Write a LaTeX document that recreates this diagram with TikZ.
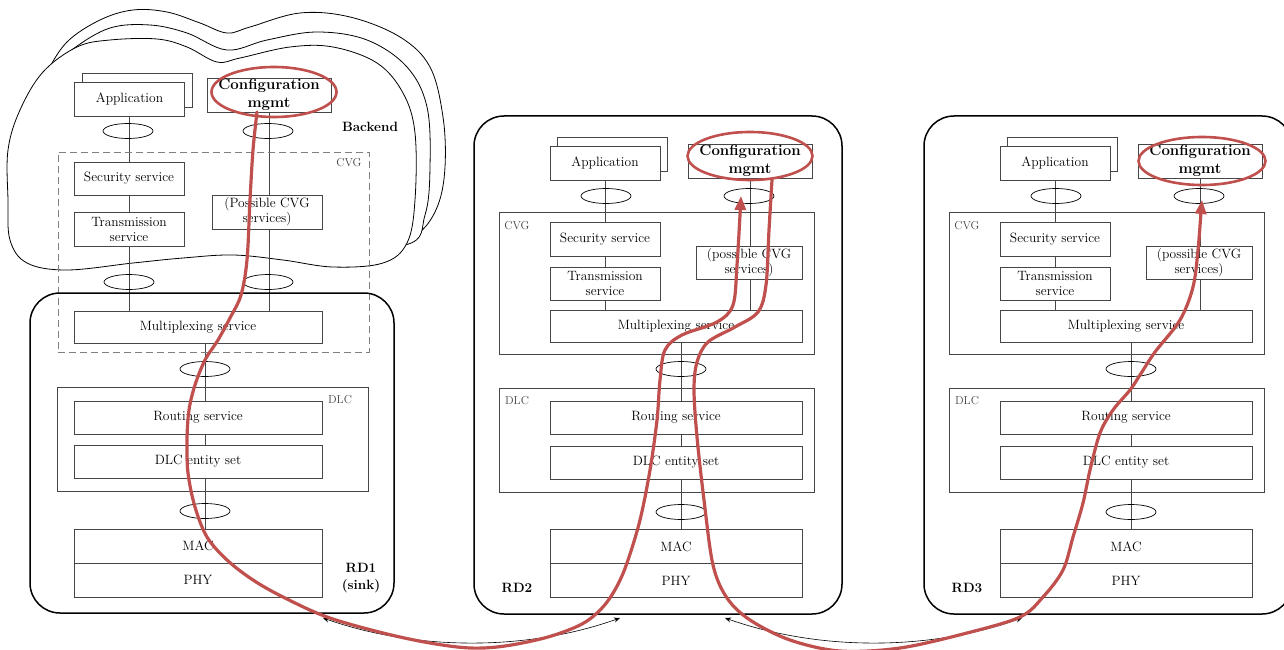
\documentclass[tikz,border=0pt]{standalone}
\usepackage{fontspec}
\usetikzlibrary{shapes.geometric,arrows.meta,calc}
\definecolor{hl}{RGB}{192,80,77}
\definecolor{boxline}{RGB}{70,70,70}
\pgfdeclarelayer{back}\pgfdeclarelayer{wires}\pgfsetlayers{back,wires,main}
\begin{document}
\begin{tikzpicture}[x=1pt,y=-1pt,
 box/.style={draw=boxline, line width=0.9pt, fill=white, inner sep=0pt, align=center, font=\fontsize{13.5}{15}\selectfont, minimum height=33pt},
 cfgbox/.style={draw=boxline, line width=0.9pt, fill=white, inner sep=0pt, align=center, font=\fontsize{15}{18.5}\selectfont\bfseries, minimum width=124pt, minimum height=34pt},
 sap/.style={draw=black, ellipse, line width=0.7pt, minimum width=50pt, minimum height=15pt, inner sep=0pt},
 container/.style={draw=boxline, line width=0.9pt, inner sep=0pt},
 rdbox/.style={draw=black, line width=1.5pt, rounded corners=30pt, inner sep=0pt},
 lbl/.style={font=\fontsize{11.5}{13}\selectfont, text=boxline, inner sep=0pt},
 boldlbl/.style={font=\fontsize{13.5}{17}\selectfont\bfseries, align=center, inner sep=0pt},
 hlring/.style={draw=hl, line width=2.6pt, ellipse, inner sep=0pt},
 hlpath/.style={draw=hl, line width=3.2pt, line cap=round},
 link/.style={draw=black, line width=0.6pt, {Stealth[length=6pt,width=5pt]}-{Stealth[length=6pt,width=5pt]}},
 wire/.style={draw=boxline, line width=0.9pt},
 cloud/.style={fill=white, draw=black, line width=0.8pt}
]
\path[use as bounding box] (0,0) rectangle (1284,650);
\clip (0,0) rectangle (1284,650);

% ---------- Backend clouds ----------
\begin{pgfonlayer}{back}
\filldraw[cloud] plot[smooth cycle,tension=0.6] coordinates {(35,100) (46,74) (67,42) (100,20) (133,10) (167,12) (200,23) (227,33) (250,27) (300,13) (350,17) (400,37) (430,67) (443,117) (445,167) (438,205) (420,232) (390,245) (300,240) (150,235) (60,180)};
\filldraw[cloud] plot[smooth cycle,tension=0.6] coordinates {(35,100) (46,74) (73,49) (110,28) (150,25) (187,33) (227,50) (267,40) (317,32) (367,40) (407,67) (427,107) (430,167) (425,215) (405,245) (300,245) (150,240) (60,185)};
\filldraw[cloud] plot[smooth cycle,tension=0.6] coordinates {(8,150) (20,110) (43,72) (77,47) (110,40) (157,39) (187,47) (217,62) (240,58) (290,47) (333,47) (377,63) (403,93) (415,133) (415,200) (407,243) (383,263) (333,267) (283,260) (233,255) (183,258) (133,263) (67,270) (27,263) (10,240) (8,200)};
\end{pgfonlayer}

% ---------- Backend + RD1 ----------
\node[box, minimum width=110pt, minimum height=34pt] (app1b) at (137,90) {};
\node[box, minimum width=110pt, minimum height=34pt] (app1) at (129.5,99) {Application};
\node[cfgbox] (cfg1) at (269,95) {Configuration\\mgmt};
\node[sap] (sa1) at (128,131) {};
\node[sap] (sb1) at (268,131) {};
\node[container, draw=gray, dash pattern=on 7pt off 4pt, minimum width=311pt, minimum height=200pt] (cvg1) at (213.5,252) {};
\node[box, minimum width=110pt] (sec1) at (129,178.5) {Security service};
\node[box, minimum width=110pt, minimum height=34pt] (tra1) at (129,229) {Transmission\\service};
\node[box, minimum width=110pt, minimum height=34pt] (pos1) at (267,212) {(Possible CVG\\services)};
\node[sap] (sc1) at (129,282) {};
\node[sap] (sd1) at (268,282) {};
\node[box, minimum width=248pt, minimum height=32pt] (mux1) at (198,327) {Multiplexing service};
\node[rdbox, minimum width=364pt, minimum height=320pt] (rd1) at (212,453) {};
\node[sap] (se1) at (205,369) {};
\node[container, minimum width=311pt, minimum height=104pt] (dlc1) at (212.5,439) {};
\node[box, minimum width=248pt] (rou1) at (198,417.5) {Routing service};
\node[box, minimum width=248pt] (ent1) at (198,461.5) {DLC entity set};
\node[sap] (sf1) at (205,511) {};
\node[box, minimum width=248pt, minimum height=34pt] (mac1) at (198,546) {MAC};
\node[box, minimum width=248pt, minimum height=34pt] (phy1) at (198,580) {PHY};
\node[lbl] (cvgl1) at (349,163) {CVG};
\node[lbl] (dlcl1) at (340,400) {DLC};
\node[boldlbl] (bkl) at (370,127) {Backend};
\node[boldlbl] (rdl1) at (361,578) {RD1\\(sink)};
\begin{pgfonlayer}{wires}
\draw[wire] (app1.south) -- (mux1.north -| app1.south);
\draw[wire] (cfg1.south) -- (mux1.north -| cfg1.south);
\draw[wire] (mux1.south -| se1) -- (mac1.north -| se1);
\end{pgfonlayer}

% ---------- RD2 and RD3 ----------
\foreach \n/\d in {2/0,3/450}{
\begin{scope}[xshift=\d]
\node[rdbox, minimum width=368pt, minimum height=498pt] (rd\n) at (658,365) {};
\node[box, minimum width=110pt, minimum height=34pt] (appb\n) at (612.5,154) {};
\node[box, minimum width=110pt, minimum height=34pt] (app\n) at (605,163) {Application};
\node[cfgbox] (cfg\n) at (750,161) {Configuration\\mgmt};
\node[sap] (sa\n) at (606,196) {};
\node[sap] (sb\n) at (749,196) {};
\node[container, minimum width=315pt, minimum height=142pt] (cvg\n) at (656.5,283) {};
\node[box, minimum width=110pt, minimum height=34pt] (sec\n) at (605,239) {Security service};
\node[box, minimum width=110pt] (tra\n) at (605,283.5) {Transmission\\service};
\node[box, minimum width=106pt] (pos\n) at (749,262.5) {(possible CVG\\services)};
\node[box, minimum width=252pt, minimum height=32pt] (mux\n) at (676,326) {Multiplexing service};
\node[sap] (sc\n) at (681,369) {};
\node[container, minimum width=315pt, minimum height=104pt] (dlc\n) at (656.5,440) {};
\node[box, minimum width=252pt] (rou\n) at (676,417.5) {Routing service};
\node[box, minimum width=252pt] (ent\n) at (676,462.5) {DLC entity set};
\node[sap] (sd\n) at (681,512) {};
\node[box, minimum width=252pt, minimum height=34pt] (mac\n) at (676,546.5) {MAC};
\node[box, minimum width=252pt, minimum height=34pt] (phy\n) at (676,580.5) {PHY};
\node[lbl] (cvgl\n) at (517,226) {CVG};
\node[lbl] (dlcl\n) at (517,401) {DLC};
\node[boldlbl] (rdl\n) at (517,588) {RD\n};
\begin{pgfonlayer}{wires}
\draw[wire] (app\n.south) -- (mux\n.north -| app\n.south);
\draw[wire] (cfg\n.south) -- (mux\n.north -| cfg\n.south);
\draw[wire] (mux\n.south -| sc\n) -- (mac\n.north -| sc\n);
\end{pgfonlayer}
\end{scope}
}

% ---------- highlight rings ----------
\node[hlring, minimum width=125pt, minimum height=50pt] (hl1) at (274,92) {};
\node[hlring, minimum width=125pt, minimum height=48pt] (hl2) at (750,156) {};
\node[hlring, minimum width=127pt, minimum height=48pt] (hl3) at (1202,161) {};

% ---------- radio links ----------
\coordinate (l1a) at (323,618); \coordinate (l1b) at (620,618);
\coordinate (l2a) at (725,618); \coordinate (l2b) at (1022,618);
\draw[link] (l1a) .. controls (420,652) and (530,650) .. (l1b);
\draw[link] (l2a) .. controls (822,652) and (932,650) .. (l2b);

% ---------- configuration paths ----------
\draw[hlpath, -{Triangle[length=14pt,width=11pt]}] plot[smooth, tension=0.55] coordinates {(257,112) (253,150) (250,200) (247,260) (241,295) (230,318) (218,340) (205,360) (195,385) (189,410) (187,440) (188,473) (195,507) (207,537) (227,560) (253,580) (283,597) (327,617) (383,633) (430,643) (470,648) (505,646) (548,637) (582,624) (602,608) (616,588) (627,563) (640,520) (650,470) (657,420) (660,380) (665,350) (682,335) (717,322) (733,305) (737,265) (740,215) (741,196)};
\draw[hlpath, -{Triangle[length=14pt,width=11pt]}] plot[smooth, tension=0.55] coordinates {(772,180) (769,230) (766,285) (758,312) (735,327) (708,342) (697,362) (694,390) (697,437) (704,500) (713,565) (727,598) (750,620) (790,640) (840,651) (900,648) (967,633) (1020,617) (1043,597) (1063,570) (1073,537) (1083,503) (1090,470) (1100,433) (1113,410) (1130,390) (1140,375) (1155,352) (1180,320) (1193,287) (1198,250) (1201,212) (1202,200)};
\end{tikzpicture}
\end{document}
